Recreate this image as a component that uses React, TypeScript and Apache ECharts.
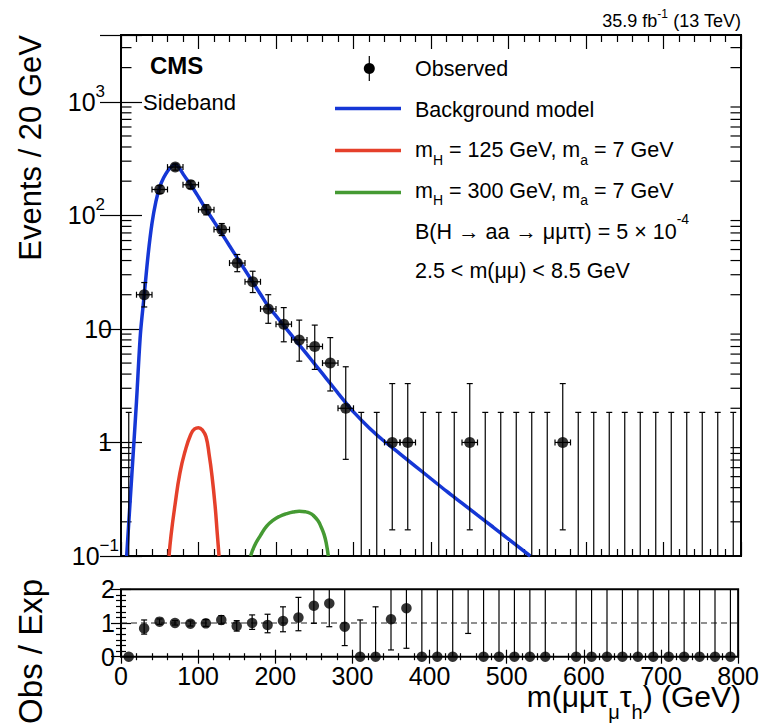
import React, { useEffect, useRef } from "react";
import * as echarts from "echarts";

const FONT = '"Liberation Sans", Arial, Helvetica, sans-serif';
const BLUE = "#1537d6";
const RED = "#e5402b";
const GREEN = "#459a33";

// ---------- data ----------
const binCenters = [10, 30, 50, 70, 90, 110, 130, 150, 170, 190, 210, 230, 250, 270, 290, 310, 330, 350, 370, 390,
  410, 430, 450, 470, 490, 510, 530, 550, 570, 590, 610, 630, 650, 670, 690, 710, 730, 750, 770, 790];
const binHalfWidth = 10;

const observedEvents = [0, 20, 169, 266, 186, 112, 75, 38, 26, 15, 11, 8, 7, 5, 2, 0, 0, 1, 1, 0,
  0, 0, 1, 0, 0, 0, 0, 0, 1, 0, 0, 0, 0, 0, 0, 0, 0, 0, 0, 0];
const observedLow = [0, 15.6, 156, 250, 172, 101, 66.4, 31.9, 20.9, 11.2, 7.7, 5.2, 4.4, 2.84, 0.71, 0, 0, 0.17, 0.17, 0,
  0, 0, 0.17, 0, 0, 0, 0, 0, 0.17, 0, 0, 0, 0, 0, 0, 0, 0, 0, 0, 0];
const observedHigh = [1.84, 25.6, 183, 283, 201, 124, 84.7, 45.2, 32.2, 20, 15.4, 11.95, 10.8, 8.38, 4.64, 1.84, 1.84, 3.3, 3.3, 1.84,
  1.84, 1.84, 3.3, 1.84, 1.84, 1.84, 1.84, 1.84, 3.3, 1.84, 1.84, 1.84, 1.84, 1.84, 1.84, 1.84, 1.84, 1.84, 1.84, 1.84];

const bgMass = [7.3, 12, 16, 20, 25, 30, 35, 40, 45, 50, 55, 60, 65, 70, 75, 80, 85, 90, 100, 110, 120, 130, 140, 150,
  160, 170, 180, 190, 200, 210, 220, 230, 240, 250, 260, 270, 280, 290, 300, 320, 340, 360, 380, 400, 420, 440,
  460, 480, 500, 528];
const bgEvents = [0.1, 0.32, 0.85, 2.3, 8.9, 20, 45, 85, 132, 178, 214, 245, 268, 280, 262, 232, 207, 186, 145, 112,
  88.1, 69.2, 54.0, 42.2, 33.0, 25.8, 20.2, 15.8, 13.0, 10.7, 8.81, 7.24, 5.96, 4.90, 4.03, 3.31, 2.72, 2.24, 1.86,
  1.35, 1.02, 0.794, 0.617, 0.479, 0.372, 0.292, 0.229, 0.180, 0.141, 0.1];

const sig125Mass = [62, 64.5, 69.7, 76, 82.6, 90, 95, 100, 105, 109.7, 114, 117, 121.3, 124.3, 126.5];
const sig125Events = [0.1, 0.151, 0.282, 0.537, 0.832, 1.175, 1.318, 1.349, 1.288, 1.122, 0.759, 0.537, 0.282, 0.155, 0.1];

const sig300Mass = [167.3, 172, 180, 188, 196.5, 205, 214, 222, 230, 238, 244, 248, 254, 258, 262, 265, 267.5];
const sig300Events = [0.1, 0.122, 0.152, 0.183, 0.207, 0.224, 0.236, 0.244, 0.248, 0.245, 0.238, 0.228, 0.205, 0.182,
  0.155, 0.128, 0.1];

const ratioValue = [0, 0.84, 1.04, 1.0, 0.98, 0.99, 1.09, 0.91, 1.0, 0.94, 1.06, 1.16, 1.51, 1.58, 0.89, 0, 0, 1.11, 1.44, 0,
  0, 0, null, 0, 0, 0, 0, 0, null, 0, 0, 0, 0, 0, 0, 0, 0, 0, 0, 0];
const ratioLow = [null, 0.67, 0.96, 0.94, 0.91, 0.9, 0.97, 0.76, 0.81, 0.71, 0.74, 0.77, 0.99, 0.89, 0.33, 0, 0, 0.2, 0.25, 0,
  0, 0, 0.69, 0, 0, 0, 0, 0, null, 0, 0, 0, 0, 0, 0, 0, 0, 0, 0, 0];
const ratioHigh = [null, 1.09, 1.12, 1.07, 1.06, 1.1, 1.22, 1.07, 1.24, 1.26, 1.48, 1.76, 2.2, 2.3, 2.4, 1.09, 1.48, 3.7, 5.3, 2.6,
  3.3, 4.1, 15, 6.3, 7.8, 9.6, 12, 15, null, 22, 27, 33, 41, 51, 63, 78, 96, 120, 150, 185];
const ratioReference = 1;

const upperYTickExponents = [-1, 0, 1, 2, 3];
const upperYTickLabels = ["{b|10}{s|\u22121}", "{b|1}{p| }", "{b|10}{p| }", "{b|10}{s|2}{q| }", "{b|10}{s|3}{q| }"];
const upperYMinorTicks = [0.2, 0.3, 0.4, 0.5, 0.6, 0.7, 0.8, 0.9, 2, 3, 4, 5, 6, 7, 8, 9, 20, 30, 40, 50, 60, 70, 80, 90,
  200, 300, 400, 500, 600, 700, 800, 900, 2000, 3000];

// ---------- helpers ----------
const tickLine = { color: "#000", width: 1.2 };
const ebStyle = { stroke: "#000", lineWidth: 1.2 };
const CAP = 3;

function xAxisDef(gridIndex: number, position: string, major: number, minor: number, showLabel: boolean) {
  return {
    type: "value", gridIndex, position, min: 0, max: 800, interval: 100,
    axisLine: { show: false },
    axisTick: { show: true, inside: true, length: major, lineStyle: tickLine },
    minorTick: { show: true, splitNumber: 5, length: minor, lineStyle: tickLine },
    splitLine: { show: false }, minorSplitLine: { show: false },
    axisLabel: { show: showLabel, fontSize: 25, fontFamily: FONT, color: "#000", margin: 7 },
  };
}

function errorBarItem(params: any, api: any, halfWidth: number) {
  const cs = params.coordSys;
  const top = cs.y, bottom = cs.y + cs.height;
  const x = api.value(0), v = api.value(1), lo = api.value(2), hi = api.value(3);
  const children: any[] = [];
  const pHi = api.coord([x, hi]);
  const px = pHi[0];
  const yHi = Math.max(pHi[1], top);
  let yLo = bottom;
  let loInside = false;
  if (lo > 0) {
    const raw = api.coord([x, lo])[1];
    loInside = raw <= bottom;
    yLo = Math.min(raw, bottom);
  } else if (lo === 0) {
    const raw = api.coord([x, lo])[1];
    if (isFinite(raw)) yLo = Math.min(raw, bottom);
  }
  children.push({ type: "line", shape: { x1: px, y1: yLo, x2: px, y2: yHi }, style: ebStyle });
  if (pHi[1] >= top) children.push({ type: "line", shape: { x1: px - CAP, y1: yHi, x2: px + CAP, y2: yHi }, style: ebStyle });
  if (loInside) children.push({ type: "line", shape: { x1: px - CAP, y1: yLo, x2: px + CAP, y2: yLo }, style: ebStyle });
  if (halfWidth > 0 && v > 0) {
    const pl = api.coord([x - halfWidth, v]);
    const pr = api.coord([x + halfWidth, v]);
    children.push({ type: "line", shape: { x1: pl[0], y1: pl[1], x2: pr[0], y2: pr[1] }, style: ebStyle });
    children.push({ type: "line", shape: { x1: pl[0], y1: pl[1] - CAP, x2: pl[0], y2: pl[1] + CAP }, style: ebStyle });
    children.push({ type: "line", shape: { x1: pr[0], y1: pr[1] - CAP, x2: pr[0], y2: pr[1] + CAP }, style: ebStyle });
  }
  return { type: "group", children };
}

function buildOption() {
  const upperErr = binCenters.map((x, i) => [x, observedEvents[i], observedLow[i], observedHigh[i]]);
  const upperPts = binCenters.map((x, i) => [x, observedEvents[i]]).filter((d) => d[1] > 0);
  const lowerErr = binCenters
    .map((x, i) => [x, ratioValue[i] == null ? -1 : ratioValue[i], ratioLow[i], ratioHigh[i]])
    .filter((d) => d[2] != null);
  const lowerPts = binCenters.map((x, i) => [x, ratioValue[i]]).filter((d) => d[1] != null);

  const legendRich = {
    a: { fontSize: 21.5, lineHeight: 33, fontFamily: FONT, fill: "#000" },
    b: { fontSize: 14, verticalAlign: "bottom", fontFamily: FONT, fill: "#000" },
  };
  const legendRichSup = {
    a: { fontSize: 21.5, lineHeight: 40, fontFamily: FONT, fill: "#000" },
    s: { fontSize: 14, verticalAlign: "top", fontFamily: FONT, fill: "#000" },
  };

  const legendTextX = 415;
  const graphic: any[] = [
    { type: "text", x: 741, y: 21, style: { text: "{a|35.9 fb}{s|-1}{a| (13 TeV)}", align: "right", verticalAlign: "middle",
      rich: { a: { fontSize: 18, lineHeight: 27, fontFamily: FONT, fill: "#000" }, s: { fontSize: 12, verticalAlign: "top", fontFamily: FONT, fill: "#000" } } } },
    { type: "text", x: 150, y: 65, style: { text: "CMS", fontSize: 24, fontWeight: "bold", fontFamily: FONT, fill: "#000", verticalAlign: "middle" } },
    { type: "text", x: 143, y: 102, style: { text: "Sideband", fontSize: 22, fontFamily: FONT, fill: "#000", verticalAlign: "middle" } },
    // legend
    { type: "line", shape: { x1: 369.3, y1: 56, x2: 369.3, y2: 81 }, style: { stroke: "#000", lineWidth: 1.2 } },
    { type: "circle", shape: { cx: 369.3, cy: 68.5, r: 5.5 }, style: { fill: "#000" } },
    { type: "line", shape: { x1: 335, y1: 108.5, x2: 401, y2: 108.5 }, style: { stroke: BLUE, lineWidth: 3.5 } },
    { type: "line", shape: { x1: 335, y1: 150.5, x2: 401, y2: 150.5 }, style: { stroke: RED, lineWidth: 3.5 } },
    { type: "line", shape: { x1: 335, y1: 192.5, x2: 401, y2: 192.5 }, style: { stroke: GREEN, lineWidth: 3.5 } },
    { type: "text", x: legendTextX, y: 69, style: { text: "Observed", fontSize: 21.5, fontFamily: FONT, fill: "#000", verticalAlign: "middle" } },
    { type: "text", x: legendTextX, y: 109.5, style: { text: "Background model", fontSize: 21.5, fontFamily: FONT, fill: "#000", verticalAlign: "middle" } },
    { type: "text", x: legendTextX, y: 150, style: { text: "{a|m}{b|H}{a| = 125 GeV, m}{b|a}{a| = 7 GeV}", verticalAlign: "middle", rich: legendRich } },
    { type: "text", x: legendTextX, y: 190.5, style: { text: "{a|m}{b|H}{a| = 300 GeV, m}{b|a}{a| = 7 GeV}", verticalAlign: "middle", rich: legendRich } },
    { type: "text", x: legendTextX, y: 232, style: { text: "{a|B(H \u2192 aa \u2192 \u03bc\u03bc\u03c4\u03c4) = 5 \u00d7 10}{s|-4}", verticalAlign: "middle", rich: legendRichSup } },
    { type: "text", x: legendTextX, y: 271, style: { text: "2.5 < m(\u03bc\u03bc) < 8.5 GeV", fontSize: 21.5, fontFamily: FONT, fill: "#000", verticalAlign: "middle" } },
    // axis titles
    { type: "text", x: 30.5, y: 35, rotation: Math.PI / 2, style: { text: "Events / 20 GeV", fontSize: 31, fontFamily: FONT, fill: "#000", align: "right", verticalAlign: "middle" } },
    { type: "text", x: 30.5, y: 579, rotation: Math.PI / 2, style: { text: "Obs / Exp", fontSize: 33, fontFamily: FONT, fill: "#000", align: "right", verticalAlign: "middle" } },
    { type: "text", x: 741, y: 670, style: { text: "{a|m(\u03bc\u03bc\u03c4}{b|\u03bc}{a|\u03c4}{b|h}{a|) (GeV)}", align: "right", verticalAlign: "top",
      rich: { a: { fontSize: 30, lineHeight: 52, fontFamily: FONT, fill: "#000" }, b: { fontSize: 20, verticalAlign: "bottom", fontFamily: FONT, fill: "#000" } } } },
  ];

  const logYAxis = (position: string, showLabel: boolean) => ({
    type: "log", logBase: 10, gridIndex: 0, position, min: 0.1, max: 3875,
    axisLine: { show: false },
    axisTick: { show: true, inside: true, length: 21, lineStyle: tickLine },
    splitLine: { show: false },
    axisLabel: {
      show: showLabel, margin: 2, color: "#000", fontFamily: FONT,
      formatter: (v: number) => {
        const l = Math.log10(v);
        const e = Math.round(l);
        if (Math.abs(l - e) > 1e-6) return "";
        const idx = upperYTickExponents.indexOf(e);
        return idx >= 0 ? upperYTickLabels[idx] : "";
      },
      rich: {
        b: { fontSize: 25, lineHeight: 38, fontFamily: FONT, color: "#000" },
        s: { fontSize: 17, verticalAlign: "top", fontFamily: FONT, color: "#000" },
        p: { fontSize: 10, width: 7, fontFamily: FONT, color: "#000" },
        q: { fontSize: 10, width: 14, fontFamily: FONT, color: "#000" },
      },
    },
  });

  const ratioYAxis = (position: string, showLabel: boolean) => ({
    type: "value", gridIndex: 1, position, min: 0, max: 2, interval: 1,
    axisLine: { show: false },
    axisTick: { show: true, inside: true, length: 10, lineStyle: tickLine },
    minorTick: { show: true, splitNumber: 6, length: 5, lineStyle: tickLine },
    splitLine: { show: false }, minorSplitLine: { show: false },
    axisLabel: { show: showLabel, fontSize: 25, fontFamily: FONT, color: "#000", margin: 6 },
  });

  return {
    animation: false,
    backgroundColor: "#fff",
    textStyle: { fontFamily: FONT },
    grid: [
      { left: 121, top: 35, width: 620, height: 521, show: true, borderColor: "#000", borderWidth: 2, backgroundColor: "transparent" },
      { left: 121, top: 589.3, width: 620, height: 67.4, show: true, borderColor: "#000", borderWidth: 2, backgroundColor: "transparent" },
    ],
    xAxis: [
      xAxisDef(0, "bottom", 14, 7, false),
      xAxisDef(0, "top", 14, 7, false),
      xAxisDef(1, "bottom", 7, 3.5, true),
      xAxisDef(1, "top", 7, 3.5, false),
    ],
    yAxis: [logYAxis("left", true), logYAxis("right", false), ratioYAxis("left", true), ratioYAxis("right", false)],
    graphic,
    series: [
      {
        type: "custom", xAxisIndex: 0, yAxisIndex: 0, silent: true, z: 1,
        data: upperYMinorTicks.map((v) => [400, v]),
        encode: { x: 0, y: 1 },
        renderItem: (params: any, api: any) => {
          const cs = params.coordSys;
          const y = api.coord([api.value(0), api.value(1)])[1];
          return {
            type: "group",
            children: [
              { type: "line", shape: { x1: cs.x, y1: y, x2: cs.x + 10.5, y2: y }, style: { stroke: "#000", lineWidth: 1.2 } },
              { type: "line", shape: { x1: cs.x + cs.width - 10.5, y1: y, x2: cs.x + cs.width, y2: y }, style: { stroke: "#000", lineWidth: 1.2 } },
            ],
          };
        },
      },
      {
        type: "line", xAxisIndex: 0, yAxisIndex: 0, name: "Background model", showSymbol: false, symbol: "none", smooth: 0.3, z: 3,
        data: bgMass.map((m, i) => [m, bgEvents[i]]), lineStyle: { color: BLUE, width: 3.5 },
      },
      {
        type: "line", xAxisIndex: 0, yAxisIndex: 0, name: "mH125", showSymbol: false, symbol: "none", smooth: 0.5, z: 3,
        data: sig125Mass.map((m, i) => [m, sig125Events[i]]), lineStyle: { color: RED, width: 3.5 },
      },
      {
        type: "line", xAxisIndex: 0, yAxisIndex: 0, name: "mH300", showSymbol: false, symbol: "none", smooth: 0.5, z: 3,
        data: sig300Mass.map((m, i) => [m, sig300Events[i]]), lineStyle: { color: GREEN, width: 3.5 },
      },
      {
        type: "custom", xAxisIndex: 0, yAxisIndex: 0, silent: true, z: 4,
        data: upperErr, encode: { x: 0, y: 3 },
        renderItem: (params: any, api: any) => errorBarItem(params, api, binHalfWidth),
      },
      {
        type: "scatter", xAxisIndex: 0, yAxisIndex: 0, name: "Observed", symbol: "circle", symbolSize: 11, z: 5,
        data: upperPts, itemStyle: { color: "#000" }, clip: false,
      },
      {
        type: "line", xAxisIndex: 2, yAxisIndex: 2, showSymbol: false, symbol: "none", z: 2,
        data: [[0, ratioReference], [800, ratioReference]], lineStyle: { color: "#222", width: 1.2, type: [6, 4] },
      },
      {
        type: "custom", xAxisIndex: 2, yAxisIndex: 2, silent: true, z: 4,
        data: lowerErr, encode: { x: 0, y: 2 },
        renderItem: (params: any, api: any) => errorBarItem(params, api, 0),
      },
      {
        type: "scatter", xAxisIndex: 2, yAxisIndex: 2, symbol: "circle", symbolSize: 10.5, z: 5,
        data: lowerPts, itemStyle: { color: "#000" }, clip: false,
      },
    ],
  };
}

export default function App() {
  const ref = useRef<HTMLDivElement>(null);
  useEffect(() => {
    if (!ref.current) return;
    const chart = echarts.init(ref.current, null, { renderer: "svg" });
    chart.setOption(buildOption() as any);
    return () => chart.dispose();
  }, []);
  return (
    <div
      ref={ref}
      style={{ position: "absolute", left: 0, top: 0, width: 762, height: 725, background: "#fff" }}
    />
  );
}
